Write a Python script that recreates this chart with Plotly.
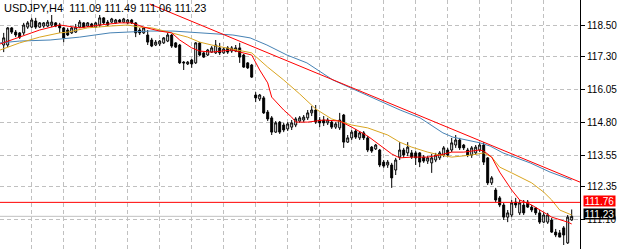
import plotly.graph_objects as go

# ---------------- data ----------------
bars = list(range(143))
opens = [117.74,117.74,118.39,118.23,118.20,118.20,118.42,118.42,118.65,118.42,
         118.46,118.46,118.50,118.58,118.50,118.39,118.31,118.20,118.23,118.42,
         118.58,118.46,118.54,118.42,118.50,118.77,118.61,118.61,118.58,118.69,
         118.61,118.58,118.69,118.58,118.31,118.20,118.12,117.93,117.74,117.78,
         117.82,117.89,118.12,117.82,117.74,117.09,117.02,117.17,117.06,117.82,
         117.44,117.36,117.47,117.44,117.63,117.44,117.63,117.51,117.51,117.63,
         117.36,117.06,116.98,115.84,115.69,115.73,115.19,114.97,114.43,114.81,
         114.70,114.55,114.62,114.70,114.85,114.89,114.97,115.16,115.27,114.89,
         114.89,114.78,114.81,114.62,114.59,115.08,114.05,114.21,114.47,114.21,
         114.40,114.21,113.86,113.79,113.75,113.29,113.18,113.18,112.99,113.48,
         113.75,113.64,113.64,113.64,113.64,113.48,113.33,113.26,113.37,113.45,
         113.56,113.75,113.75,113.94,114.13,113.94,113.75,113.56,113.64,113.75,
         113.94,113.45,112.50,112.23,111.93,111.66,111.20,111.28,111.77,111.36,
         111.66,111.77,111.58,111.55,111.36,111.01,111.01,111.09,110.63,110.60,
         110.79,110.22,111.09]
highs = [118.20,118.42,118.42,118.31,118.23,118.58,118.65,118.77,118.77,118.61,
         118.61,118.69,118.88,118.61,118.58,118.42,118.39,118.42,118.54,118.69,
         118.61,118.61,118.58,118.61,118.88,118.80,118.69,118.77,118.73,118.73,
         118.77,118.73,118.73,118.61,118.39,118.42,118.31,118.01,117.93,117.93,
         118.04,118.20,118.16,117.85,117.78,117.13,117.13,117.21,117.85,117.85,
         117.47,117.59,117.70,117.93,117.82,117.66,117.70,117.70,117.74,117.82,
         117.40,117.09,117.02,115.95,115.88,115.80,115.27,115.04,114.85,114.85,
         114.78,114.81,114.89,115.00,115.04,115.08,115.27,115.42,115.46,115.00,
         115.04,114.97,114.89,114.81,115.16,115.12,114.32,114.51,114.55,114.47,
         114.47,114.28,113.90,113.98,113.79,113.37,113.37,113.26,113.45,114.05,
         113.83,114.05,113.75,113.71,113.67,113.56,113.52,113.60,113.64,113.71,
         113.90,113.83,114.21,114.32,114.21,113.98,113.83,113.90,113.94,114.02,
         114.05,113.48,112.76,112.31,112.00,111.74,111.47,111.85,111.93,111.85,
         111.85,111.85,111.66,111.58,111.47,111.39,111.36,111.17,110.75,110.71,
         110.86,111.28,111.49]
lows = [117.47,117.66,118.16,118.04,117.97,118.12,118.35,118.39,118.35,118.39,
        118.39,118.42,118.42,118.42,118.20,117.85,118.08,118.16,118.20,118.39,
        118.39,118.42,118.39,118.39,118.42,118.54,118.46,118.58,118.54,118.58,
        118.58,118.54,118.54,118.04,118.12,118.16,117.74,117.66,117.70,117.70,
        117.78,117.85,117.63,117.63,117.02,116.79,116.98,116.87,117.02,117.32,
        117.25,117.32,117.44,117.40,117.36,117.40,117.40,117.44,117.47,117.06,
        116.87,116.83,116.49,115.57,115.61,115.12,114.85,114.32,114.40,114.36,
        114.43,114.47,114.51,114.62,114.78,114.81,114.89,115.04,114.74,114.62,
        114.66,114.70,114.55,114.55,114.51,113.83,114.02,114.13,114.17,114.13,
        114.13,113.67,113.64,113.75,113.10,113.07,113.07,112.31,112.80,113.37,
        113.45,113.52,113.41,113.18,113.10,113.26,113.22,112.88,113.29,113.37,
        113.48,113.48,113.67,113.83,113.75,113.75,113.48,113.45,113.56,113.67,
        113.18,112.42,112.42,111.77,111.58,111.09,111.01,111.20,111.55,111.28,
        111.28,111.55,111.39,111.28,110.94,110.97,110.94,110.60,110.44,110.44,
        110.14,110.18,111.06]
closes = [118.01,118.39,118.23,118.12,118.04,118.50,118.58,118.69,118.42,118.58,
          118.58,118.61,118.61,118.46,118.39,118.01,118.12,118.39,118.42,118.61,
          118.42,118.58,118.42,118.58,118.77,118.58,118.50,118.73,118.69,118.61,
          118.73,118.69,118.58,118.20,118.20,118.39,117.85,117.70,117.85,117.89,
          118.01,118.12,117.70,117.66,117.06,117.06,117.09,117.02,117.82,117.36,
          117.28,117.55,117.63,117.74,117.44,117.59,117.47,117.63,117.63,117.28,
          116.90,116.87,116.52,115.73,115.84,115.16,114.93,114.43,114.78,114.43,
          114.51,114.74,114.78,114.93,114.97,115.00,115.16,115.27,114.81,114.78,
          114.78,114.89,114.62,114.74,114.89,114.05,114.21,114.43,114.24,114.40,
          114.21,113.75,113.71,113.94,113.18,113.14,113.29,112.69,113.37,113.75,
          113.56,113.86,113.48,113.45,113.29,113.33,113.45,113.45,113.56,113.64,
          113.83,113.56,114.02,114.13,113.83,113.83,113.56,113.83,113.86,113.94,
          113.29,112.50,112.69,111.85,111.66,111.20,111.36,111.74,111.66,111.74,
          111.36,111.58,111.47,111.36,111.01,111.28,111.28,110.63,110.52,110.44,
          110.52,111.20,111.23]

# moving averages (bar index, price)
fast_ma_x = [-0.9,4,9,14,16,19,24,29,32,35,39,42,44,47,49,52,57,59,62,64,66,67,70,72,73,
             76,80,84,87,91,94,97,99,102,106,109,112,115,119,120,122,124,127,129,132,134,137,141,142]
fast_ma_y = [117.78,118.04,118.31,118.50,118.46,118.39,118.50,118.58,118.58,118.42,118.27,118.20,
             117.93,117.63,117.51,117.47,117.55,117.47,117.36,116.79,116.30,115.76,115.27,115.00,114.81,
             114.81,114.89,114.85,114.62,114.28,113.94,113.60,113.45,113.48,113.48,113.56,113.67,113.67,
             113.75,113.71,113.48,112.91,112.23,111.85,111.66,111.47,111.20,111.01,110.94]
mid_ma_x = [-0.9,4,9,14,16,21,26.6,31,34,37,42,46,49,52,62,66,70,74,78,82,87,91,96,99,102,106,
            109,112,117,120,122,124,127,132,135,137,139,141,142]
mid_ma_y = [117.55,117.82,118.04,118.20,118.23,118.39,118.46,118.50,118.42,118.39,118.20,118.04,
            117.85,117.74,117.44,116.90,116.41,115.88,115.31,114.93,114.70,114.59,114.32,114.05,113.86,
            113.67,113.56,113.48,113.56,113.64,113.48,113.10,112.88,112.50,112.15,111.85,111.47,111.36,111.28]
slow_ma_x = [-0.9,4,11.6,19,26.6,32.3,36.6,42.3,49,57.3,61.6,65.8,70.8,75.8,82.3,90.8,99.1,104.1,
             109.8,112.3,115.8,119.1,121.6,124.8,131.6,136.6,142]
slow_ma_y = [117.82,117.89,117.93,118.04,118.20,118.23,118.27,118.27,118.20,118.12,118.01,117.74,
             117.36,117.06,116.41,115.84,115.27,114.97,114.40,114.24,114.13,114.02,113.90,113.64,113.26,
             112.91,112.61]

trend_x = [36.5, 144.075]
trend_y = [119.30, 112.53]

tick_vals = [118.50, 117.30, 116.05, 114.80, 113.55, 112.35, 111.10]
tick_text = ["118.50", "117.30", "116.05", "114.80", "113.55", "112.35", "111.10"]
vgrid_vals = list(range(7, 136, 8))

symbol = "USDJPY,H4"
ask_line = 111.76
bid_line = 111.23
y_range = [109.988, 119.45]
x_range = [-0.925, 144.075]

FONT = "Liberation Sans"

fig = go.Figure()
fig.add_trace(go.Candlestick(
    x=bars, open=opens, high=highs, low=lows, close=closes,
    increasing=dict(line=dict(color="black", width=1), fillcolor="white"),
    decreasing=dict(line=dict(color="black", width=1), fillcolor="black"),
    whiskerwidth=0, hoverinfo="skip", showlegend=False))

for xs, ys, col in [(slow_ma_x, slow_ma_y, "#4682B4"),
                    (mid_ma_x, mid_ma_y, "#DAA520"),
                    (fast_ma_x, fast_ma_y, "#FF0000")]:
    fig.add_trace(go.Scatter(x=xs, y=ys, mode="lines",
                             line=dict(color=col, width=1), hoverinfo="skip", showlegend=False))

fig.add_trace(go.Scatter(x=trend_x, y=trend_y, mode="lines",
                         line=dict(color="#FF0000", width=1), hoverinfo="skip", showlegend=False))

fig.add_shape(type="line", xref="paper", x0=0, x1=1, yref="y", y0=bid_line, y1=bid_line,
              line=dict(color="#C0C0C0", width=1), layer="below")
fig.add_shape(type="line", xref="paper", x0=0, x1=1, yref="y", y0=ask_line, y1=ask_line,
              line=dict(color="#FF0000", width=1))

header = f"{symbol}  {opens[-1]:.2f} {highs[-1]:.2f} {lows[-1]:.2f} {closes[-1]:.2f}"
fig.add_annotation(text=header, xref="paper", yref="paper", x=0, y=1, xanchor="left",
                   yanchor="top", xshift=2, yshift=0, showarrow=False,
                   font=dict(family=FONT, size=11, color="black"))

fig.add_annotation(text="109.90", xref="paper", yref="y", x=1, y=109.90, xanchor="left",
                   xshift=6, showarrow=False, font=dict(family=FONT, size=10, color="black"))

for val, bg, shift in [(ask_line, "#FF0000", 1.5), (bid_line, "#000000", 2)]:
    fig.add_annotation(text=f"{val:.2f}", xref="paper", yref="y", x=1, y=val, xanchor="left",
                       xshift=3, yshift=shift, showarrow=False, bgcolor=bg, borderpad=0,
                       width=31, height=10, align="center",
                       font=dict(family=FONT, size=10, color="white"))

fig.update_layout(
    width=622, height=249,
    margin=dict(l=0, r=42, t=0, b=0),
    paper_bgcolor="white", plot_bgcolor="white",
    showlegend=False,
    xaxis=dict(range=x_range, tickvals=vgrid_vals, showticklabels=False, ticks="",
               showgrid=True, gridcolor="#C0C0C0", griddash="4px,3px", gridwidth=1,
               zeroline=False, showline=False, rangeslider=dict(visible=False), fixedrange=True),
    yaxis=dict(range=y_range, side="right", tickvals=tick_vals, ticktext=tick_text,
               showgrid=True, gridcolor="#C0C0C0", griddash="4px,3px", gridwidth=1,
               showline=True, linecolor="black", linewidth=1,
               ticks="outside", ticklen=4, tickcolor="black", tickwidth=1,
               tickfont=dict(family=FONT, size=10, color="black"), zeroline=False, fixedrange=True),
)

fig.write_html("out.html")
